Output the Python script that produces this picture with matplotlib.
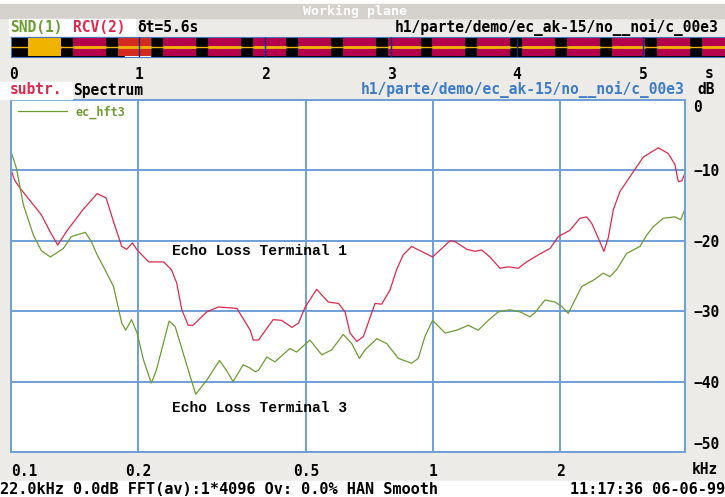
import matplotlib
matplotlib.use("Agg")
import matplotlib.pyplot as plt
from matplotlib.patches import Rectangle

W, H = 725, 497

# echo loss spectra (frequency in kHz, level in dB)
freq_t1 = [0.100, 0.102, 0.105, 0.118, 0.124, 0.129, 0.136, 0.148, 0.160, 0.168,
           0.175, 0.183, 0.188, 0.194, 0.199, 0.212, 0.230, 0.240, 0.247, 0.254,
           0.263, 0.270, 0.291, 0.310, 0.343, 0.369, 0.375, 0.386, 0.418, 0.438,
           0.463, 0.480, 0.498, 0.530, 0.565, 0.597, 0.619, 0.636, 0.660, 0.684,
           0.729, 0.756, 0.791, 0.820, 0.850, 0.890, 0.998, 1.049, 1.097, 1.127,
           1.202, 1.258, 1.304, 1.365, 1.441, 1.508, 1.593, 1.667, 1.777, 1.894,
           1.982, 2.112, 2.230, 2.313, 2.377, 2.464, 2.542, 2.602, 2.675, 2.774,
           2.877, 2.983, 3.151, 3.419, 3.611, 3.746, 3.814, 3.885, 3.956]
level_t1 = [-9.9, -11.4, -12.5, -16.3, -18.8, -20.6, -18.5, -15.6, -13.3, -13.9,
            -17.3, -20.8, -21.2, -20.3, -21.3, -23.0, -23.0, -24.1, -26.0, -29.8,
            -32.0, -32.0, -30.1, -29.4, -29.6, -32.7, -34.1, -34.1, -31.2, -31.3,
            -32.3, -31.7, -29.4, -26.9, -28.7, -28.9, -30.1, -33.1, -34.3, -33.6,
            -28.9, -29.0, -27.0, -24.1, -22.0, -20.8, -22.3, -21.1, -20.0, -20.1,
            -21.2, -21.5, -21.3, -22.3, -23.9, -23.7, -23.9, -23.0, -22.0, -21.1,
            -19.4, -18.5, -16.8, -16.6, -17.5, -19.6, -21.5, -19.6, -15.6, -13.0,
            -11.6, -10.2, -8.1, -6.8, -7.6, -9.2, -11.6, -11.5, -10.4]

freq_t3 = [0.100, 0.103, 0.107, 0.113, 0.118, 0.124, 0.133, 0.139, 0.150, 0.155,
           0.160, 0.167, 0.175, 0.183, 0.187, 0.193, 0.199, 0.206, 0.215, 0.221,
           0.237, 0.245, 0.256, 0.266, 0.274, 0.291, 0.312, 0.324, 0.336, 0.355,
           0.369, 0.379, 0.386, 0.404, 0.422, 0.458, 0.475, 0.511, 0.545, 0.575,
           0.613, 0.642, 0.669, 0.690, 0.736, 0.777, 0.828, 0.890, 0.923, 0.957,
           0.998, 1.068, 1.138, 1.213, 1.280, 1.352, 1.428, 1.522, 1.608, 1.698,
           1.745, 1.843, 1.946, 2.018, 2.092, 2.251, 2.399, 2.533, 2.627, 2.724,
           2.877, 3.094, 3.209, 3.327, 3.513, 3.746, 3.864, 3.956]
level_t3 = [-7.3, -9.7, -14.9, -19.2, -21.4, -22.3, -21.1, -19.4, -18.8, -20.1,
            -22.0, -24.1, -26.5, -31.7, -32.7, -31.2, -33.1, -36.9, -40.2, -38.4,
            -31.4, -32.2, -36.0, -39.3, -41.8, -39.8, -37.0, -38.4, -40.0, -37.6,
            -38.1, -38.6, -38.4, -36.5, -37.2, -35.3, -35.8, -34.1, -36.2, -35.5,
            -33.3, -34.6, -36.7, -35.5, -33.9, -34.6, -36.7, -37.4, -36.7, -33.6,
            -31.3, -33.1, -32.7, -32.0, -32.7, -31.3, -30.1, -29.8, -30.1, -30.8,
            -30.2, -28.4, -28.7, -29.3, -30.3, -26.5, -25.6, -24.6, -25.1, -24.1,
            -21.8, -20.8, -19.2, -18.0, -16.8, -16.6, -17.0, -15.5]

freq_ticks = [0.1, 0.2, 0.5, 1, 2]
freq_tick_labels = ["0.1", "0.2", "0.5", "1", "2"]
db_ticks = [0, -10, -20, -30, -40, -50]

# recorded signal: burst onsets in seconds
burst_starts = [0.12, 0.476, 0.833, 1.19, 1.548, 1.905, 2.26, 2.62, 2.976,
                3.325, 3.68, 4.04, 4.40, 4.754, 5.11, 5.468]
burst_len = 0.26
time_ticks = [0, 1, 2, 3, 4, 5]

BG = "#ecebe8"
GRID = "#6f9fd6"
RED = "#e0284c"
GREEN = "#6c9c32"
BLUE_TXT = "#3d7cc9"
mono = dict(family="DejaVu Sans Mono", weight="bold", size=10.5)
status = dict(family="DejaVu Sans Mono", weight="bold", size=11)


def box(l, t, r, b):
    return [l / W, 1 - b / H, (r - l) / W, (b - t) / H]


def band(l, t, r, b, color):
    fig.patches.append(Rectangle((l / W, 1 - b / H), (r - l) / W, (b - t) / H,
                                 transform=fig.transFigure, color=color, zorder=0))


fig = plt.figure(figsize=(W / 100, H / 100), dpi=100, facecolor=BG)

# header bands
band(0, 0, W, 4, "white")
band(0, 4, W, 18, "#d5d2cd")
band(9, 19, 135, 35, "white")
band(0, 82, 72, 99, "white")
band(0, 481, W, H, "white")

fig.text(355 / W, 1 - 11 / H, "Working plane", color="white", ha="center", va="center",
         family="DejaVu Sans Mono", weight="bold", size=9.5)
fig.text(10 / W, 1 - 27 / H, "SND(1)", color=GREEN, va="center", **mono)
fig.text(73 / W, 1 - 27 / H, "RCV(2)", color=RED, va="center", **mono)
fig.text(137 / W, 1 - 27 / H, "\u03b4t=5.6s", color="black", va="center", **mono)
fig.text(719 / W, 1 - 28 / H, "h1/parte/demo/ec_ak-15/no__noi/c_00e3", color="black",
         ha="right", va="center", **mono)
fig.text(705 / W, 1 - 74 / H, "s", color="black", va="center", **mono)
fig.text(10 / W, 1 - 90 / H, "subtr.", color=RED, va="center", **mono)
fig.text(73 / W, 1 - 90 / H, "Spectrum", color="black", va="center", **mono)
fig.text(684 / W, 1 - 90 / H, "h1/parte/demo/ec_ak-15/no__noi/c_00e3", color=BLUE_TXT,
         ha="right", va="center", **mono)
fig.text(697 / W, 1 - 90 / H, "dB", color="black", va="center", **mono)
fig.text(692 / W, 1 - 470 / H, "kHz", color="black", va="center", **mono)
fig.text(0, 1 - 489 / H, "22.0kHz 0.0dB FFT(av):1*4096 Ov: 0.0% HAN Smooth",
         color="black", va="center", **status)
fig.text(1, 1 - 489 / H, "11:17:36 06-06-99", color="black", ha="right", va="center",
         **status)

# waveform strip
axw = fig.add_axes(box(11, 37, 725, 57))
axw.set_facecolor("black")
axw.set_xlim(-0.016, 5.65)
axw.set_ylim(-1, 1)
axw.axvspan(0.89, 1.09, color="white", zorder=1)
colors = ["#b5004c"] * len(burst_starts)
colors[0] = "#f0b400"
colors[2] = "#d42a20"
axw.bar(burst_starts, 1.7, bottom=-0.85, width=burst_len, align="edge",
        color=colors, zorder=2)
axw.axhline(0, color="#f0b400", lw=1.0, zorder=3)
burst_ends = [s + burst_len for s in burst_starts]
axw.hlines([0] * len(burst_starts), burst_starts, burst_ends,
           color="#f0b400", lw=2.0, zorder=3)
axw.vlines(time_ticks[1:], -1, 1, color="#1c2a7a", lw=1, zorder=4)
for s in axw.spines.values():
    s.set_color("#4a78c0")
axw.set_xticks(time_ticks)
axw.set_xticklabels([str(t) for t in time_ticks], fontdict=mono)
axw.set_yticks([])
axw.tick_params(axis="x", length=0, pad=7)

# spectrum plot
ax = fig.add_axes(box(11, 100, 685, 452))
ax.set_facecolor("white")
ax.plot(freq_t1, level_t1, color=RED, lw=0.9)
ax.plot(freq_t3, level_t3, color=GREEN, lw=0.9, label="ec_hft3")
ax.set_xscale("log")
ax.set_xlim(0.1, 3.956)
ax.set_ylim(-50, 0)
ax.set_xticks(freq_ticks)
ax.set_xticklabels(freq_tick_labels, fontdict=mono)
ax.minorticks_off()
ax.set_yticks(db_ticks)
ax.set_yticklabels([f"{v}".replace("-", "\u2212") for v in db_ticks], fontdict=mono)
ax.yaxis.tick_right()
ax.tick_params(axis="both", length=0)
ax.tick_params(axis="x", pad=9)
ax.tick_params(axis="y", pad=6)
ax.get_xticklabels()[0].set_ha("left")
ylabels = ax.get_yticklabels()
ylabels[0].set_va("top")
ylabels[-1].set_va("bottom")
ax.grid(True, color=GRID, lw=1.4)
for s in ax.spines.values():
    s.set_color(GRID)
    s.set_linewidth(1.4)

ax.text(0.2407, -21.45, "Echo Loss Terminal 1", ha="left", va="center",
        family="Liberation Mono", weight="bold", size=10.5, color="black")
ax.text(0.2407, -43.75, "Echo Loss Terminal 3", ha="left", va="center",
        family="Liberation Mono", weight="bold", size=10.5, color="black")

ax.legend(loc="upper left", bbox_to_anchor=(0.005, 0.995), frameon=False,
          handlelength=4.2, handletextpad=0.7, borderaxespad=0, borderpad=0.3,
          labelcolor="linecolor", prop=dict(family="DejaVu Sans Mono", weight="bold", size=8.5))

fig.savefig("out.png", dpi=100, facecolor=BG)
